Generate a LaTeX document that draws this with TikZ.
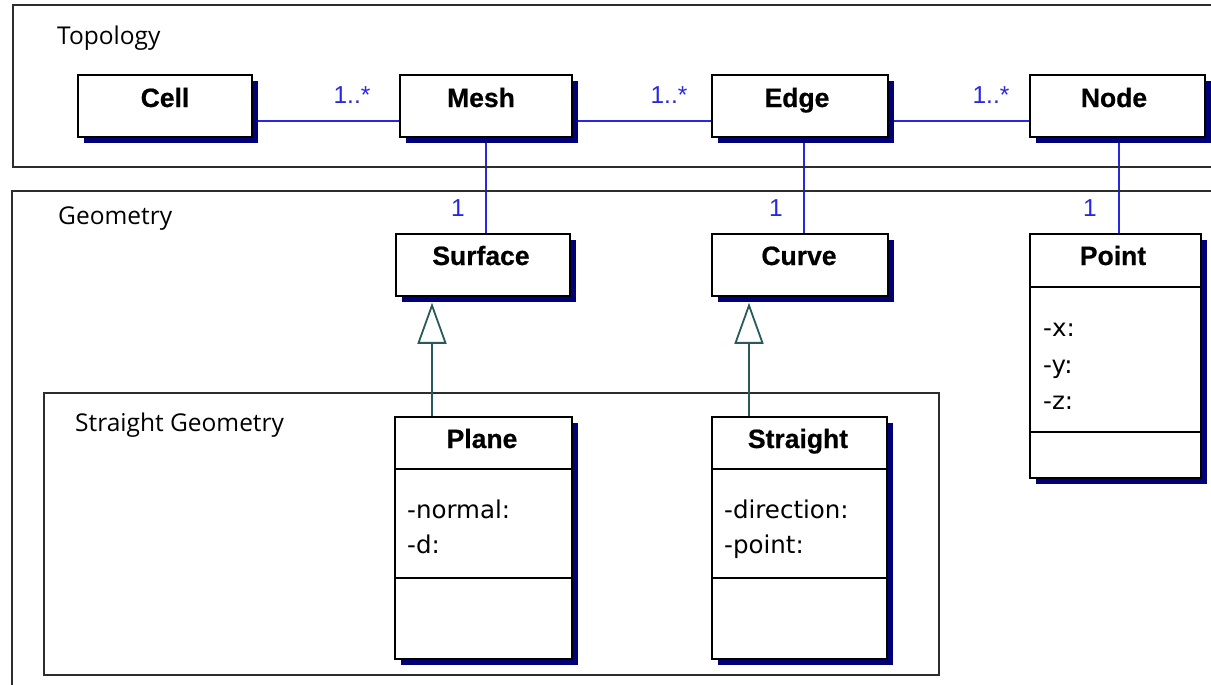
\documentclass[tikz,border=0pt]{standalone}
\usepackage{fontspec}
\setmainfont{Liberation Sans}
\newfontfamily\titlefont[BoldFeatures={FakeBold=0.6}]{Liberation Sans}
\newfontfamily\framefont{Open Sans}
\newfontfamily\attrfont{DejaVu Sans}
\usetikzlibrary{shadows,backgrounds,arrows.meta,calc}
\definecolor{navyshadow}{RGB}{0,0,120}
\definecolor{assocblue}{RGB}{40,40,225}
\definecolor{inhteal}{RGB}{40,90,90}
\definecolor{framegray}{RGB}{45,45,45}
\begin{document}
\begin{tikzpicture}[x=1pt,y=-1pt,
  classbox/.style={draw=black, line width=1.5pt, fill=white, rectangle, inner sep=0pt,
    minimum height=62pt,
    drop shadow={shadow xshift=6pt, shadow yshift=-6pt, fill=navyshadow, opacity=1}},
  titletext/.style={font=\titlefont\fontsize{26.5}{30}\selectfont\bfseries, inner sep=0pt, anchor=base},
  attr/.style={font=\attrfont\fontsize{24.5}{28}\selectfont, anchor=base west, inner sep=0pt},
  framebox/.style={draw=framegray, line width=2pt},
  framelabel/.style={font=\framefont\fontsize{24.5}{28}\selectfont, anchor=west, inner sep=0pt},
  assoc/.style={draw=assocblue, line width=2pt},
  mult/.style={text=assocblue, font=\fontsize{24.5}{28}\selectfont, inner sep=0pt},
  inh/.style={draw=inhteal, line width=2pt,
    -{Triangle[fill=white, length=41pt, width=29pt, line width=1.8pt]}},
  sep/.style={draw=black, line width=1.5pt}
]
\useasboundingbox (0,0) rectangle (1211,685);
\clip (0,0) rectangle (1211,685);

% frames
\draw[framebox] (13,5) rectangle (1240,167);
\draw[framebox] (12,191) rectangle (1240,720);
\draw[framebox] (44,393) rectangle (939,675);
\node[framelabel] (ltopo) at (57,38) {Topology};
\node[framelabel] (lgeo) at (58,219) {Geometry};
\node[framelabel] (lsg) at (75,425) {Straight Geometry};

% topology classes
\node[classbox, minimum width=174pt] (cell) at (165,106) {};
\node[titletext] (celltitle) at (165,107) {Cell};
\node[classbox, minimum width=172pt] (mesh) at (486,106) {};
\node[titletext] (meshtitle) at (481,107) {Mesh};
\node[classbox, minimum width=176pt] (edge) at (800,106) {};
\node[titletext] (edgetitle) at (797,107) {Edge};
\node[classbox, minimum width=175pt] (node) at (1117.5,106) {};
\node[titletext] (nodetitle) at (1114,107) {Node};

% geometry classes
\node[classbox, minimum width=174pt] (surface) at (483,265) {};
\node[titletext] (surfacetitle) at (481,265) {Surface};
\node[classbox, minimum width=176pt] (curve) at (800,265) {};
\node[titletext] (curvetitle) at (799,265) {Curve};
\node[classbox, minimum width=171pt, minimum height=244pt] (point) at (1115.5,356) {};
\node[titletext] (pointtitle) at (1113,265) {Point};
\draw[sep] (point.west |- 0,287) -- (point.east |- 0,287);
\draw[sep] (point.west |- 0,432) -- (point.east |- 0,432);
\node[attr] (px) at (1043,336) {-x:};
\node[attr] (py) at (1043,373) {-y:};
\node[attr] (pz) at (1043,409) {-z:};

% straight geometry classes
\node[classbox, minimum width=177pt, minimum height=242pt] (plane) at (483.5,538) {};
\node[titletext] (planetitle) at (482,448) {Plane};
\draw[sep] (plane.west |- 0,469) -- (plane.east |- 0,469);
\draw[sep] (plane.west |- 0,578) -- (plane.east |- 0,578);
\node[attr] (pn) at (407,518) {-normal:};
\node[attr] (pd) at (407,553) {-d:};

\node[classbox, minimum width=175pt, minimum height=242pt] (straight) at (799.5,538) {};
\node[titletext] (straighttitle) at (798,448) {Straight};
\draw[sep] (straight.west |- 0,469) -- (straight.east |- 0,469);
\draw[sep] (straight.west |- 0,578) -- (straight.east |- 0,578);
\node[attr] (sdir) at (724,518) {-direction:};
\node[attr] (spt) at (724,553) {-point:};

% associations (behind the boxes)
\begin{scope}[on background layer]
\draw[assoc] ([yshift=-15pt]cell.east) -- ([yshift=-15pt]cell.east -| mesh.west);
\draw[assoc] ([yshift=-15pt]mesh.east) -- ([yshift=-15pt]mesh.east -| edge.west);
\draw[assoc] ([yshift=-15pt]edge.east) -- ([yshift=-15pt]edge.east -| node.west);
\draw[assoc] (mesh.south) -- (mesh.south |- surface.north);
\coordinate (edgedown) at ([xshift=4pt]edge.south);
\draw[assoc] (edgedown) -- (edgedown |- curve.north);
\coordinate (nodedown) at ([xshift=1.5pt]node.south);
\draw[assoc] (nodedown) -- (nodedown |- point.north);
\end{scope}

\node[mult] (m1) at (352,95) {1..*};
\node[mult] (m2) at (669,95) {1..*};
\node[mult] (m3) at (991,95) {1..*};
\node[mult] (m4) at (458,208) {1};
\node[mult] (m5) at (776,208) {1};
\node[mult] (m6) at (1090,208) {1};

% generalizations
\coordinate (plup) at ([xshift=-51.5pt]plane.north);
\coordinate (plhead) at ($(plup |- surface.south)+(0,6)$);
\draw[inh] (plup) -- (plhead);
\coordinate (stup) at ([xshift=-50.5pt]straight.north);
\coordinate (sthead) at ($(stup |- curve.south)+(0,6)$);
\draw[inh] (stup) -- (sthead);
\end{tikzpicture}
\end{document}
